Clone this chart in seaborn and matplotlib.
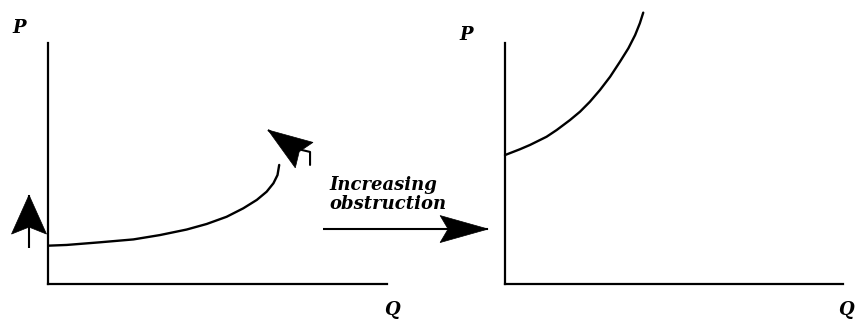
import numpy as np
import pandas as pd
import seaborn as sns
import matplotlib.pyplot as plt
from matplotlib.patches import Polygon
from matplotlib.transforms import IdentityTransform

sns.set_style("white")
plt.rcParams['font.family'] = ['DejaVu Serif']
plt.rcParams['text.color'] = 'black'

# === Data (axes scaled 0..10) ===
left_q = [0.0, 0.55, 1.53, 2.52, 3.30, 4.09, 4.68, 5.27, 5.76, 6.16, 6.45,
          6.65, 6.77, 6.82]
left_p = [1.59, 1.62, 1.73, 1.85, 2.03, 2.26, 2.49, 2.79, 3.14, 3.49, 3.83,
          4.18, 4.52, 4.94]

right_q = [0.0, 0.44, 0.74, 1.23, 1.53, 1.92, 2.22, 2.51, 2.81, 3.11, 3.40,
           3.65, 3.85, 3.99, 4.09]
right_p = [5.35, 5.59, 5.77, 6.11, 6.39, 6.80, 7.15, 7.56, 8.05, 8.60, 9.22,
           9.78, 10.33, 10.82, 11.26]

axis_label_x = "Q"
axis_label_y = "P"
middle_text = "Increasing\nobstruction"

left_df = pd.DataFrame({"Q": left_q, "P": left_p})
right_df = pd.DataFrame({"Q": right_q, "P": right_p})


def draw_arrow(ax, start, tip, length, half, notch, lw=1.5):
    # stem in data coords, filled concave head in pixel coords
    ax.plot([start[0], tip[0]], [start[1], tip[1]], color="black", lw=lw,
            clip_on=False, solid_capstyle="butt")
    p0 = ax.transData.transform(start)
    p1 = ax.transData.transform(tip)
    d = (p1 - p0) / np.hypot(*(p1 - p0))
    n = np.array([-d[1], d[0]])
    base = p1 - d * length
    verts = [p1, base + n * half, p1 - d * (length - notch), base - n * half]
    ax.add_patch(Polygon(verts, closed=True, transform=IdentityTransform(),
                         facecolor="black", edgecolor="black", lw=0.5,
                         clip_on=False))


# === Setup figure ===
fig = plt.figure(figsize=(8.55, 3.2), dpi=100)
W, H = 855, 320
ax1 = fig.add_axes([48 / W, 36 / H, 339 / W, 241 / H])
ax2 = fig.add_axes([505 / W, 36 / H, 338 / W, 241 / H])

for ax in (ax1, ax2):
    ax.set_xlim(0, 10)
    ax.set_ylim(0, 10)
    for s in ("left", "bottom"):
        ax.spines[s].set_linewidth(1.6)
        ax.spines[s].set_color("black")
    ax.patch.set_alpha(0)
sns.despine(fig=fig)

sns.lineplot(data=left_df, x="Q", y="P", ax=ax1, color="black", lw=1.7,
             sort=False, estimator=None)
sns.lineplot(data=right_df, x="Q", y="P", ax=ax2, color="black", lw=1.7,
             sort=False, estimator=None)
for ln in ax2.lines:
    ln.set_clip_on(False)
for ax in (ax1, ax2):
    ax.set_xticks([])
    ax.set_yticks([])
    ax.set_xlabel("")
    ax.set_ylabel("")

# === Arrows ===
draw_arrow(ax1, (-0.56, 1.49), (-0.56, 3.69), 39, 17.5, 7)
draw_arrow(ax1, (7.40, 5.50), (6.49, 6.39), 44, 15.5, 6)
ax1.plot([7.49, 7.73, 7.73], [5.56, 5.48, 4.94], color="black", lw=1.5,
         clip_on=False)
draw_arrow(ax2, (-5.38, 2.28), (-0.50, 2.28), 48, 13.5, 8)

# === Labels ===
lab = dict(fontsize=13, fontweight="bold", fontstyle="italic",
           ha="center", va="center", color="black")
fig.text(19 / W, 1 - 28 / H, axis_label_y, **lab)
fig.text(466 / W, 1 - 35 / H, axis_label_y, **lab)
fig.text(392 / W, 1 - 310 / H, axis_label_x, **lab)
fig.text(846 / W, 1 - 310 / H, axis_label_x, **lab)
fig.text(329 / W, 1 - 176 / H, middle_text, fontsize=13, fontweight="bold",
         fontstyle="italic", ha="left", va="top", linespacing=1.05,
         color="black")

fig.savefig("out.png", dpi=100)
